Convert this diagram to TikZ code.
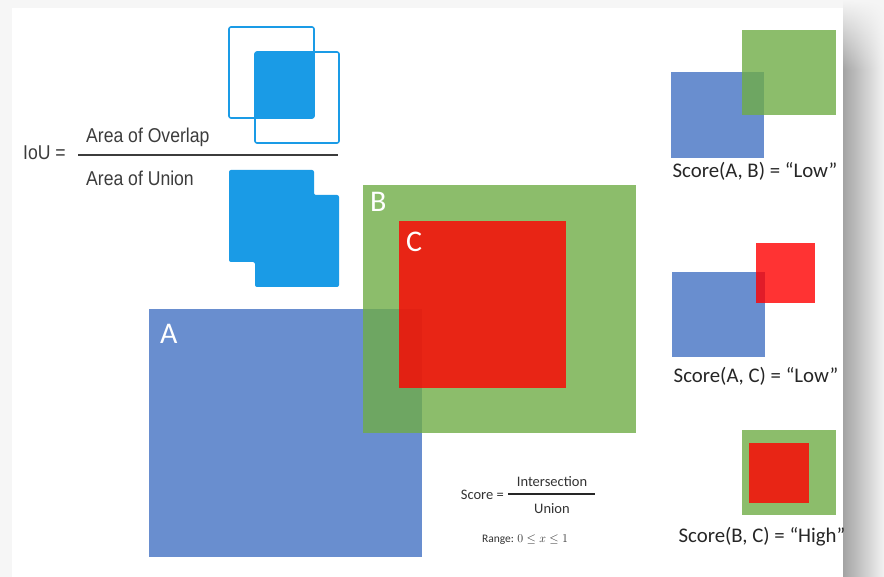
\documentclass[tikz,border=0pt]{standalone}
\usepackage{fontspec}
\setmainfont{Carlito}
\newfontfamily\helvfont{Liberation Sans}
\usetikzlibrary{fadings}
\definecolor{slideblue}{HTML}{4472C4}
\definecolor{slidegreen}{HTML}{70AD47}
\definecolor{slidered}{HTML}{FF0000}
\definecolor{ioublue}{HTML}{1A9BE6}
\definecolor{ioutext}{HTML}{3C3C3C}

\tikzset{
  boxa/.style={fill=slideblue, fill opacity=0.8},
  boxb/.style={fill=slidegreen, fill opacity=0.8},
  boxc/.style={fill=slidered, fill opacity=0.8},
  letter/.style={text=white, font=\fontsize{30}{36}\selectfont, anchor=base west, inner sep=0pt},
  scorelabel/.style={text=black!85, font=\fontsize{20.8}{24}\selectfont, anchor=base, inner sep=0pt},
  iouword/.style={text=ioutext, font=\helvfont\fontsize{20}{24}\selectfont, xscale=0.88, anchor=base west, inner sep=0pt},
  fracword/.style={text=black!80, font=\fontsize{14.5}{17}\selectfont, anchor=base, inner sep=0pt}
}

\begin{document}
\begin{tikzpicture}[x=1pt, y=-1pt]
 % slide and its shadow
 \fill[gray!7] (0,0) rectangle (884,577);
 \shade[left color=black!36, right color=black!5] (843,0) rectangle (884,577);
 \fill[gray!7, path fading=south] (843,0) rectangle (884,70);
 \fill[white] (12,8) rectangle (843,577);
 \useasboundingbox (0,0) rectangle (884,577);

 % IoU formula
 \node[iouword] (iou) at (23,160) {IoU =};
 \node[iouword] (overlap) at (86,143) {Area of Overlap};
 \node[iouword] (union) at (86,186) {Area of Union};
 \coordinate (barl) at (78,155);
 \coordinate (barr) at (338,155);
 \draw[ioutext, line width=1.8pt] (barl) -- (barr);

 % overlap picture
 \draw[ioublue, line width=1.6pt, rounded corners=2pt] (229,27) rectangle (314,118);
 \draw[ioublue, line width=1.6pt, rounded corners=2pt] (255,52) rectangle (339,143);
 \fill[ioublue, rounded corners=2pt] (255,52) rectangle (314,118);

 % union picture
 \fill[ioublue, rounded corners=2pt] (229,170) -- (314,170) -- (314,195) -- (339,195)
   -- (339,287) -- (255,287) -- (255,262) -- (229,262) -- cycle;

 % main boxes
 \fill[boxa] (149,309) rectangle (422,557);
 \fill[boxb] (363,185) rectangle (636,433);
 \fill[boxc] (399,221) rectangle (566,388);
 \node[letter] (la) at (160,344) {A};
 \node[letter] (lb) at (370,212) {B};
 \node[letter] (lc) at (406,252) {C};

 % score formula
 \node[fracword, anchor=base east] (score) at (504,499) {Score =};
 \node[fracword] (inter) at (552,486) {Intersection};
 \node[fracword] (uni) at (552,513) {Union};
 \coordinate (sbarl) at (508,494);
 \coordinate (sbarr) at (595,494);
 \draw[black!85, line width=1.6pt] (sbarl) -- (sbarr);
 \node[fracword, font=\fontsize{11.5}{13}\selectfont] (range) at (525,542) {Range: $0 \le x \le 1$};

 % right hand examples
 \fill[boxa] (671,72) rectangle (764,158);
 \fill[boxb] (742,30) rectangle (836,115);
 \node[scorelabel] (sab) at (755,178) {Score(A, B) = “Low”};

 \fill[boxa] (672,272) rectangle (765,357);
 \fill[boxc] (756,243) rectangle (815,303);
 \node[scorelabel] (sac) at (756,383) {Score(A, C) = “Low”};

 \fill[boxb] (742,430) rectangle (836,515);
 \fill[boxc] (749,443) rectangle (809,503);
 \node[scorelabel] (sbc) at (762,542) {Score(B, C) = “High”};
\end{tikzpicture}
\end{document}
